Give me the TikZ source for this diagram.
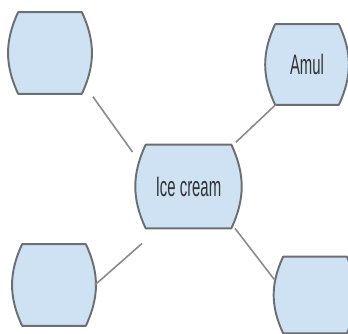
\documentclass[tikz,border=0pt]{standalone}
\usepackage{fontspec}
\setmainfont{Liberation Sans}
\usepackage{xcolor}
\usetikzlibrary{positioning,calc,backgrounds}

\definecolor{boxfill}{HTML}{CFE2F3}
\definecolor{boxline}{HTML}{6B6E72}
\definecolor{linkline}{HTML}{8A8A8A}
\newcommand{\thintext}[1]{\scalebox{0.53}[1]{#1}}

\begin{document}
\begin{tikzpicture}[
    topic/.style={rectangle, minimum width=1.62cm, minimum height=1.62cm, inner sep=0pt,
        text=black!80, font=\fontsize{16}{18}\selectfont},
    topicline/.style={draw=boxline, fill=boxfill, line width=1.1pt, line join=round},
    link/.style={draw=linkline, line width=0.9pt}
]
    \useasboundingbox (0,0) rectangle (6.96,-6.68);
    \clip (0,0) rectangle (6.96,-6.68);

    \node[topic, minimum width=2.06cm, minimum height=1.66cm] (ice) at (3.77,-3.73) {\thintext{Ice cream}};
    \node[topic] (t1) at (1.0,-1.06) {};
    \node[topic, minimum height=1.6cm] (amul) at (6.14,-1.29) {\thintext{Amul}};
    \node[topic] (t3) at (1.08,-5.7) {};
    \node[topic, minimum height=1.52cm] (t4) at (6.3,-5.9) {};

    % box outlines with bulging sides
    \begin{pgfonlayer}{background}
    \foreach \n in {ice,t1,amul,t3,t4}
        \draw[topicline] ($(\n.north west)+(0.18,0)$) -- ($(\n.north east)+(-0.18,0)$)
            to[bend left=25] ($(\n.south east)+(-0.18,0)$) -- ($(\n.south west)+(0.18,0)$)
            to[bend left=25] cycle;
    \end{pgfonlayer}

    \draw[link, shorten <=2pt, shorten >=4pt] (t1.south east) -- (ice.151);
    \draw[link, shorten >=2pt] (amul.232) -- (ice.43);
    \draw[link, shorten <=13pt] (ice.235) -- (t3.east);
    \draw[link] (ice.-42) -- (t4.159);
\end{tikzpicture}
\end{document}
